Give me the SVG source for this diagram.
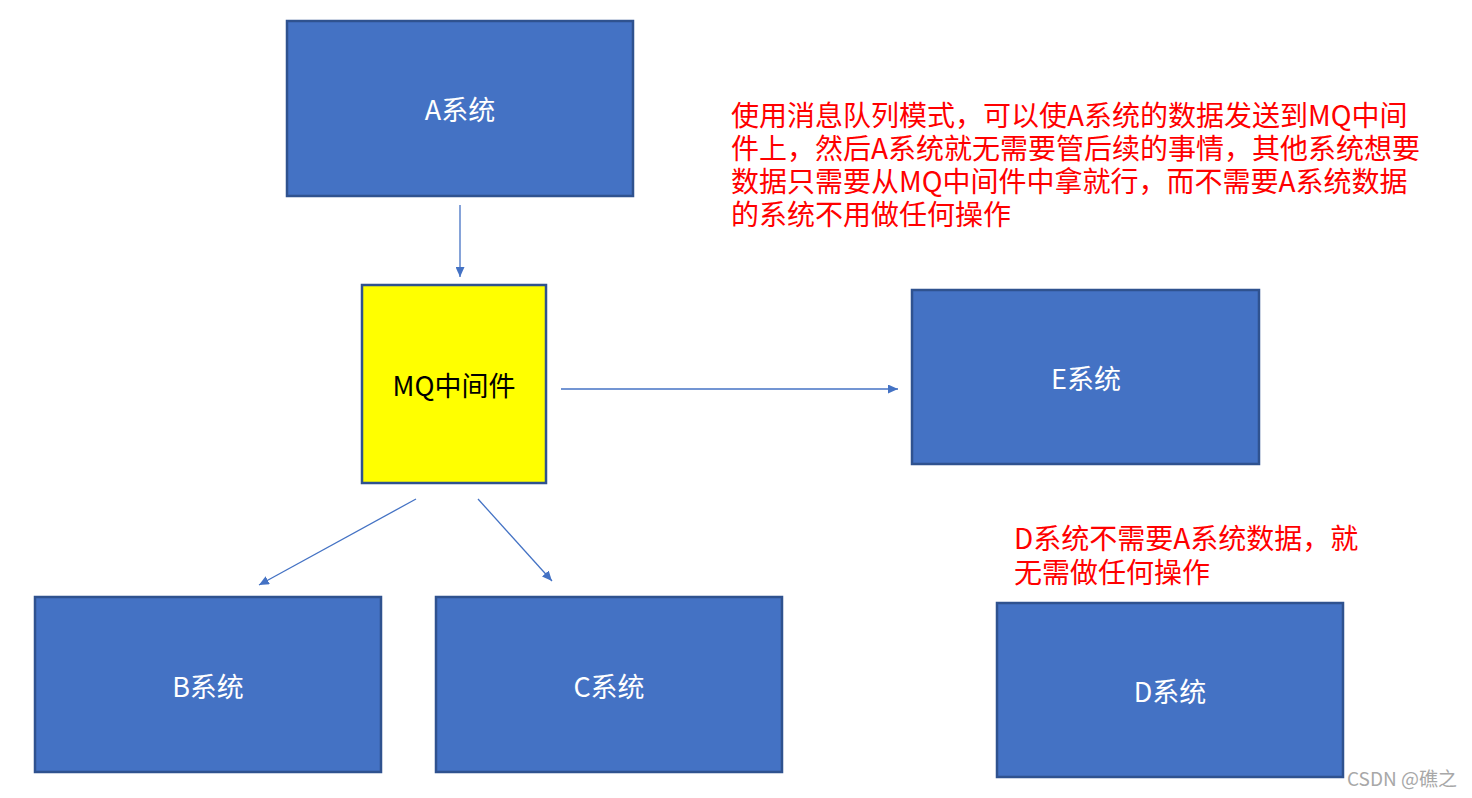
<svg xmlns="http://www.w3.org/2000/svg" width="1472" height="798" viewBox="0 0 1472 798">
<defs>
<style>
.box{fill:#4472C4;stroke:#2F528F;stroke-width:2.5}
.mq{fill:#FFFF00;stroke:#2F528F;stroke-width:2.5}
.lbl{font-family:"Noto Sans CJK SC","Noto Sans",sans-serif;font-size:27px;fill:#FFFFFF;text-anchor:middle;dominant-baseline:central}
.lblk{fill:#000000}
.note{font-family:"Noto Sans CJK SC","Noto Sans",sans-serif;font-size:28px;fill:#FF0000}
.conn{stroke:#4472C4;stroke-width:1.3;fill:none;marker-end:url(#ah)}
.wm{font-family:"Noto Sans CJK SC","Noto Sans",sans-serif;font-size:19px;fill:#A8A8A8}
</style>
<marker id="ah" markerUnits="userSpaceOnUse" markerWidth="11" markerHeight="9" refX="10" refY="4.5" orient="auto">
<path d="M0,0 L10,4.5 L0,9 z" fill="#4472C4"/>
</marker>
</defs>
<rect width="1472" height="798" fill="#FFFFFF"/>
<g id="connectors">
<line class="conn" x1="460" y1="205" x2="460" y2="277"/>
<line class="conn" x1="561" y1="389" x2="898" y2="389"/>
<line class="conn" x1="416" y1="499" x2="259" y2="585"/>
<line class="conn" x1="478" y1="499" x2="552" y2="581"/>
</g>
<g id="node-A">
<rect class="box" x="287" y="21" width="346" height="175"/>
<text class="lbl" x="460" y="108">A系统</text>
</g>
<g id="node-MQ">
<rect class="mq" x="362" y="285" width="184" height="198"/>
<text class="lbl lblk" x="454" y="384">MQ中间件</text>
</g>
<g id="node-E">
<rect class="box" x="912" y="290" width="347" height="174"/>
<text class="lbl" x="1086" y="377">E系统</text>
</g>
<g id="node-B">
<rect class="box" x="35" y="597" width="346" height="175"/>
<text class="lbl" x="208" y="685">B系统</text>
</g>
<g id="node-C">
<rect class="box" x="436" y="597" width="346" height="175"/>
<text class="lbl" x="609" y="685">C系统</text>
</g>
<g id="node-D">
<rect class="box" x="997" y="603" width="346" height="174"/>
<text class="lbl" x="1170" y="690">D系统</text>
</g>
<g id="note-main">
<text class="note" x="731" y="126">使用消息队列模式，可以使A系统的数据发送到MQ中间</text>
<text class="note" x="731" y="159">件上，然后A系统就无需要管后续的事情，其他系统想要</text>
<text class="note" x="731" y="192">数据只需要从MQ中间件中拿就行，而不需要A系统数据</text>
<text class="note" x="731" y="225">的系统不用做任何操作</text>
</g>
<g id="note-D">
<text class="note" x="1014" y="549">D系统不需要A系统数据，就</text>
<text class="note" x="1014" y="583">无需做任何操作</text>
</g>
<text class="wm" x="1347" y="786">CSDN @礁之</text>
</svg>
